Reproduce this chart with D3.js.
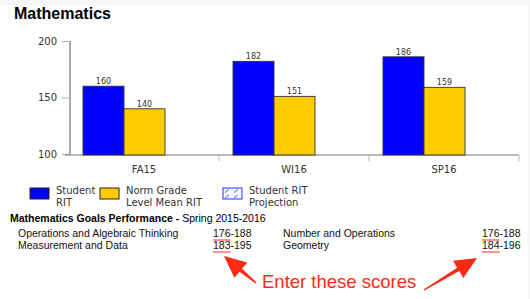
<!DOCTYPE html>
<html>
<head>
<meta charset="utf-8">
<script src="https://cdn.jsdelivr.net/npm/d3@7"></script>
<style>
  body { margin: 0; background: #fff; }
  svg { display: block; }
</style>
</head>
<body>
<svg id="chart"></svg>
<script>
const W = 530, H = 299;

// data
var terms = ["FA15", "WI16", "SP16"];
var studentRIT = [160, 182, 186];
var normRIT = [140, 151, 159];
var yTicks = [100, 150, 200];
var legendLabels = [["Student", "RIT"], ["Norm Grade", "Level Mean RIT"], ["Student RIT", "Projection"]];
var goalNames = ["Operations and Algebraic Thinking", "Measurement and Data", "Number and Operations", "Geometry"];
var goalLow = [176, 183, 176, 184];
var goalHigh = [188, 195, 188, 196];

var svg = d3.select("#chart")
    .attr("width", W)
    .attr("height", H);

// light frame round the page
svg.append("rect").attr("x", 0).attr("y", 0).attr("width", W).attr("height", 5).attr("fill", "#f6f6f6");
svg.append("rect").attr("x", 528).attr("y", 0).attr("width", 2).attr("height", H).attr("fill", "#f6f6f6");

svg.append("text")
    .attr("x", 14).attr("y", 19)
    .style("font", "bold 16px 'Liberation Sans', Arial, sans-serif")
    .attr("fill", "#000")
    .text("Mathematics");

// scales
var y = d3.scaleLinear().domain([100, 200]).range([154, 41]);
var x = d3.scaleBand().domain(terms).range([69, 519]);
var barW = 41, barOff = 14;

var chartFont = "'DejaVu Sans', sans-serif";

// y axis
var yAxis = svg.append("g")
    .attr("transform", "translate(70,0)")
    .call(d3.axisLeft(y).tickValues(yTicks).tickSize(8).tickPadding(5));
yAxis.select(".domain").attr("stroke", "#555").attr("d", "M0," + y(200) + "V155");
yAxis.selectAll(".tick line").attr("stroke", "#aaa");
yAxis.selectAll(".tick text").style("font", "10px " + chartFont).attr("fill", "#333");

// x axis: line with ticks on band boundaries
var xg = svg.append("g");
xg.append("line")
    .attr("x1", 65).attr("x2", x.range()[1])
    .attr("y1", 155).attr("y2", 155)
    .attr("stroke", "#777");
xg.selectAll(".xt").data(terms)
    .enter().append("line")
    .attr("x1", (d, i) => x(d) + x.step())
    .attr("x2", (d, i) => x(d) + x.step())
    .attr("y1", 155).attr("y2", 161)
    .attr("stroke", "#bbb");
xg.selectAll(".xl").data(terms)
    .enter().append("text")
    .attr("x", d => x(d) + x.bandwidth() / 2)
    .attr("y", 173)
    .attr("text-anchor", "middle")
    .style("font", "10px " + chartFont)
    .attr("fill", "#333")
    .text(d => d);

// bars
var series = [
    { vals: studentRIT, color: "#0000ff" },
    { vals: normRIT, color: "#ffcc00" }
];
series.forEach(function(s, si) {
    svg.selectAll(".bar" + si).data(terms)
        .enter().append("rect")
        .attr("x", d => x(d) + barOff + si * barW)
        .attr("y", (d, i) => y(s.vals[i]))
        .attr("width", barW)
        .attr("height", (d, i) => y(100) + 1 - y(s.vals[i]))
        .attr("fill", s.color)
        .attr("stroke", "#333")
        .attr("stroke-width", 0.9);
    svg.selectAll(".lab" + si).data(terms)
        .enter().append("text")
        .attr("x", d => x(d) + barOff + si * barW + barW / 2)
        .attr("y", (d, i) => y(s.vals[i]) - 2)
        .attr("text-anchor", "middle")
        .style("font", "8px " + chartFont)
        .attr("fill", "#333")
        .text((d, i) => s.vals[i]);
});

// legend
var defs = svg.append("defs");
var pat = defs.append("pattern")
    .attr("id", "proj").attr("patternUnits", "userSpaceOnUse")
    .attr("x", 223).attr("y", 188)
    .attr("width", 9).attr("height", 5.5);
pat.append("line").attr("x1", 2).attr("y1", 4.5).attr("x2", 6).attr("y2", 1.5)
    .attr("stroke", "#2233ff").attr("stroke-width", 0.9);

var legX = [30, 100, 223];
var legFill = ["#0000ff", "#ffcc00", "#f7f8ff"];
var legStroke = ["#222", "#222", "#2233ff"];
legendLabels.forEach(function(lines, i) {
    svg.append("rect")
        .attr("x", legX[i]).attr("y", 188)
        .attr("width", 19).attr("height", 11)
        .attr("fill", legFill[i])
        .attr("stroke", legStroke[i]).attr("stroke-width", 1);
    if (i === 2) {
        svg.append("rect")
            .attr("x", legX[i] + 1).attr("y", 189)
            .attr("width", 17).attr("height", 9)
            .attr("fill", "url(#proj)");
    }
    var t = svg.append("text")
        .attr("x", legX[i] + 26).attr("y", 194)
        .style("font", "10px " + chartFont)
        .attr("fill", "#333");
    lines.forEach(function(l, j) {
        t.append("tspan").attr("x", legX[i] + 26).attr("dy", j === 0 ? 0 : 12).text(l);
    });
});

// goals table
var goalFont = "10.5px 'Liberation Sans', Arial, sans-serif";
var head = svg.append("text")
    .attr("x", 10).attr("y", 222)
    .style("font", goalFont)
    .attr("fill", "#000");
head.append("tspan").attr("font-weight", "bold").text("Mathematics Goals Performance - ");
head.append("tspan").text("Spring 2015-2016");

var colName = [18, 18, 283, 283];
var rowY = [237, 249, 237, 249];
var scoreX = [213, 213, 482, 482];
goalNames.forEach(function(n, i) {
    svg.append("text")
        .attr("x", colName[i]).attr("y", rowY[i])
        .style("font", goalFont).attr("fill", "#111")
        .text(n);
    var st = svg.append("text")
        .attr("x", scoreX[i]).attr("y", rowY[i])
        .style("font", goalFont).attr("fill", "#111");
    st.append("tspan").text(goalLow[i]);
    st.append("tspan").text("-" + goalHigh[i]);
    // red spell-check underline under the low score
    var w = st.select("tspan").node().getComputedTextLength();
    svg.append("line")
        .attr("x1", scoreX[i]).attr("x2", scoreX[i] + w)
        .attr("y1", rowY[i] + 3).attr("y2", rowY[i] + 3)
        .attr("stroke", "#ff3b30").attr("stroke-width", 1.1);
});

// callout
var red = "#ff2a14";
svg.append("text")
    .attr("x", 262).attr("y", 288)
    .style("font", "18.5px 'Liberation Sans', Arial, sans-serif")
    .attr("fill", red)
    .text("Enter these scores");

function arrow(x1, y1, x2, y2) {
    var dx = x2 - x1, dy = y2 - y1, L = Math.sqrt(dx * dx + dy * dy);
    var ux = dx / L, uy = dy / L, px = -uy, py = ux;
    var hl = 22, hw = 10, sw = 2;
    var bx = x2 - ux * hl, by = y2 - uy * hl;
    var pts = [
        [x1 + px * 0.7, y1 + py * 0.7],
        [bx + px * sw, by + py * sw],
        [bx + px * hw, by + py * hw],
        [x2, y2],
        [bx - px * hw, by - py * hw],
        [bx - px * sw, by - py * sw],
        [x1 - px * 0.7, y1 - py * 0.7]
    ];
    svg.append("path")
        .attr("d", d3.line()(pts) + "Z")
        .attr("fill", red);
}
arrow(256, 283, 224, 256);
arrow(424, 290, 477, 258);
</script>
</body>
</html>
